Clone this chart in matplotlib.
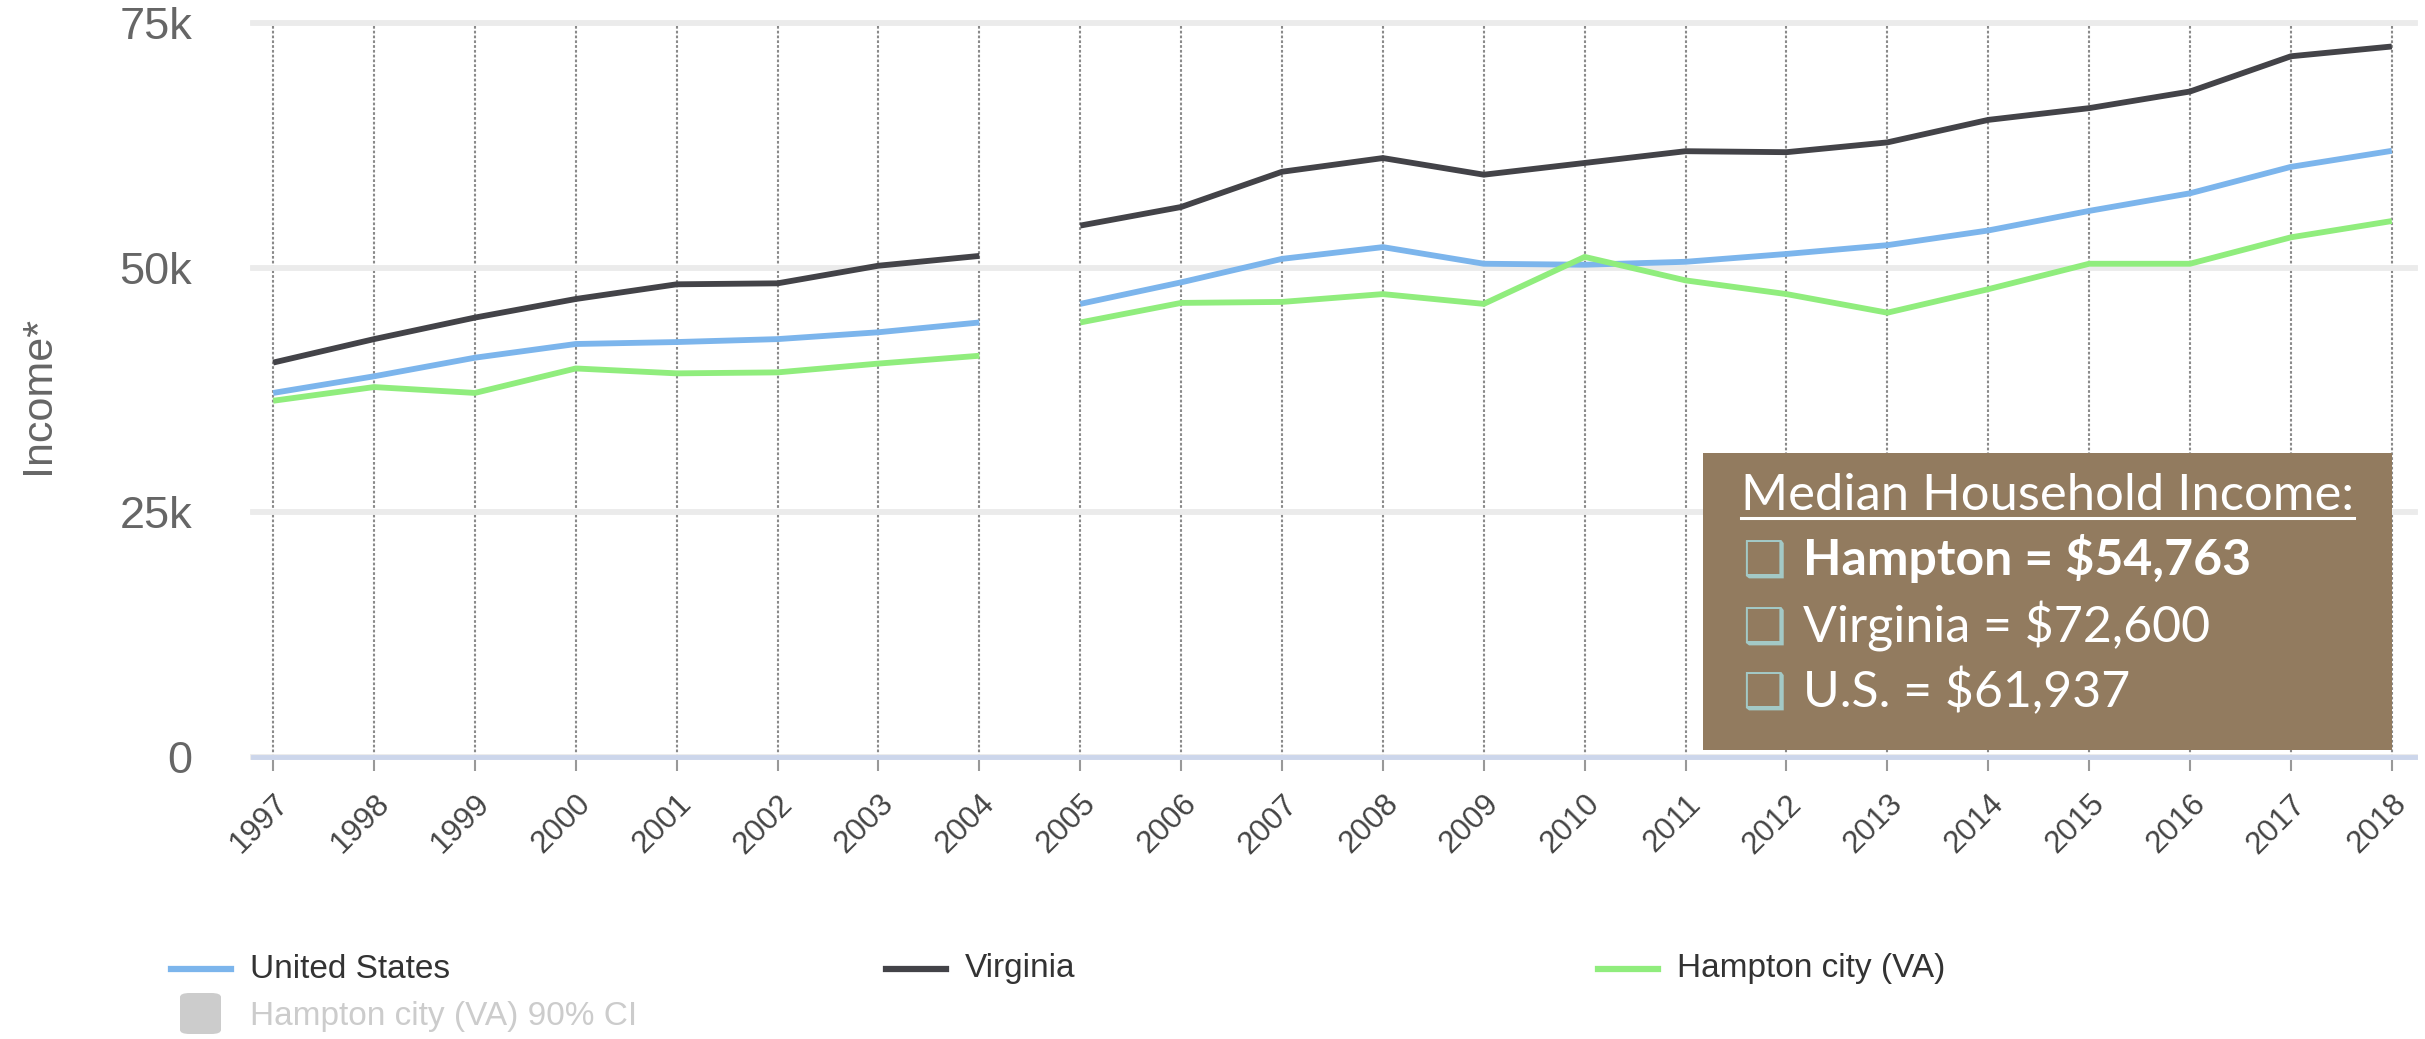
import matplotlib
matplotlib.use("Agg")
import matplotlib.pyplot as plt
from matplotlib.lines import Line2D
from matplotlib.patches import Rectangle, FancyBboxPatch
from matplotlib.ticker import FuncFormatter

years = list(range(1997, 2019))
united_states = [37200, 38900, 40800, 42200, 42400, 42700, 43400, 44400, 46300, 48500, 50900,
                 52100, 50400, 50300, 50600, 51400, 52300, 53800, 55800, 57600, 60300, 61937]
virginia = [40300, 42700, 44900, 46800, 48300, 48400, 50200, 51200, 54300, 56200, 59800,
            61200, 59500, 60700, 61900, 61800, 62800, 65100, 66300, 68000, 71600, 72600]
hampton = [36400, 37800, 37200, 39700, 39200, 39300, 40200, 41000, 44400, 46400, 46500,
           47300, 46300, 51100, 48700, 47300, 45400, 47800, 50400, 50400, 53100, 54763]
break_year = 2005  # the series are not joined between 2004 and 2005

series_names = ["United States", "Virginia", "Hampton city (VA)"]
ci_name = "Hampton city (VA) 90% CI"
box_title = "Median Household Income:"
box_rows = ["Hampton = $54,763", "Virginia = $72,600", "U.S. = $61,937"]

colors = ["#7cb5ec", "#434348", "#90ed7d"]

W, H = 2425, 1039
plt.rcParams['font.family'] = ['Liberation Sans', 'DejaVu Sans']
fig = plt.figure(figsize=(W / 100, H / 100), dpi=100)

def fx(px):
    return px / W

def fy(py):
    return 1 - py / H

ax = fig.add_axes([fx(253), fy(757), (2415 - 253) / W, (757 - 23) / H])

cut = years.index(break_year)
for vals, col in zip([united_states, virginia, hampton], colors):
    ax.plot(years[:cut], vals[:cut], color=col, lw=4.2, zorder=5, solid_capstyle='butt')
    ax.plot(years[cut:], vals[cut:], color=col, lw=4.2, zorder=5, solid_capstyle='butt')

ax.set_xlim(1996.8, 2018.23)
ax.set_ylim(0, 75000)
ax.set_xticks(years)
ax.set_yticks([0, 25000, 50000, 75000])
ax.yaxis.set_major_formatter(FuncFormatter(lambda v, p: "0" if v == 0 else f"{int(v / 1000)}k"))

for s in ["top", "right", "left"]:
    ax.spines[s].set_visible(False)
ax.spines["bottom"].set_color("#ccd6eb")
ax.spines["bottom"].set_linewidth(3.5)

ax.grid(axis="y", color="#ebebeb", lw=4.2)
ax.grid(axis="x", color="#8a8a8a", lw=1.5, linestyle=(0, (1.3, 1.0)))
for gl in ax.get_ygridlines():
    gl.set_clip_on(False)
ax.set_axisbelow(True)

ax.tick_params(axis="y", length=0, pad=44, labelsize=32.5, labelcolor="#666666")
ax.tick_params(axis="x", length=10, width=1.5, color="#999999", pad=13,
               labelsize=22.5, labelcolor="#444444")
for lab in ax.get_xticklabels():
    lab.set_rotation(45)
    lab.set_ha("right")
    lab.set_va("top")
    lab.set_rotation_mode("anchor")

ax.set_ylabel("Income*", fontsize=31, color="#666666")
ax.yaxis.set_label_coords((58 - 253) / 2162, (757 - 395) / 734)

# legend below the chart
leg_x = [171, 886, 1598]
for name, col, x0 in zip(series_names, colors, leg_x):
    fig.add_artist(Line2D([fx(x0), fx(x0 + 60)], [fy(969), fy(969)], color=col, lw=4.5))
    fig.text(fx(x0 + 79), fy(969), name, fontsize=24, color="#333333", va="center", ha="left")
fig.add_artist(FancyBboxPatch((fx(180), fy(1034)), fx(41), 41 / H,
                              boxstyle="round,pad=0,rounding_size=0.004",
                              fc="#cccccc", ec="none", transform=fig.transFigure))
fig.text(fx(250), fy(1017), ci_name, fontsize=24, color="#cccccc", va="center", ha="left")

# brown annotation box
fig.add_artist(Rectangle((fx(1703), fy(750)), (2392 - 1703) / W, (750 - 453) / H,
                         fc="#927b5f", ec="none", transform=fig.transFigure, zorder=10))
title = fig.text(fx(1741), fy(510), box_title, fontsize=36.5, color="white", family="Lato",
                 ha="left", va="baseline", zorder=11)
baselines = [575, 642, 707]
for i, (row, yb) in enumerate(zip(box_rows, baselines)):
    fig.text(fx(1742), fy(yb + 2), "\u2751", fontsize=35, color="#a3c9c6", family="DejaVu Sans",
             ha="left", va="baseline", zorder=11)
    fig.text(fx(1803), fy(yb), row, fontsize=36, color="white", family="Lato",
             weight="bold" if i == 0 else "normal", ha="left", va="baseline", zorder=11)

fig.canvas.draw()
bb = title.get_window_extent()
fig.add_artist(Line2D([bb.x0 / W, bb.x1 / W], [fy(518), fy(518)], color="white", lw=2.2, zorder=11))

fig.savefig("out.png", dpi=100, facecolor="white")
